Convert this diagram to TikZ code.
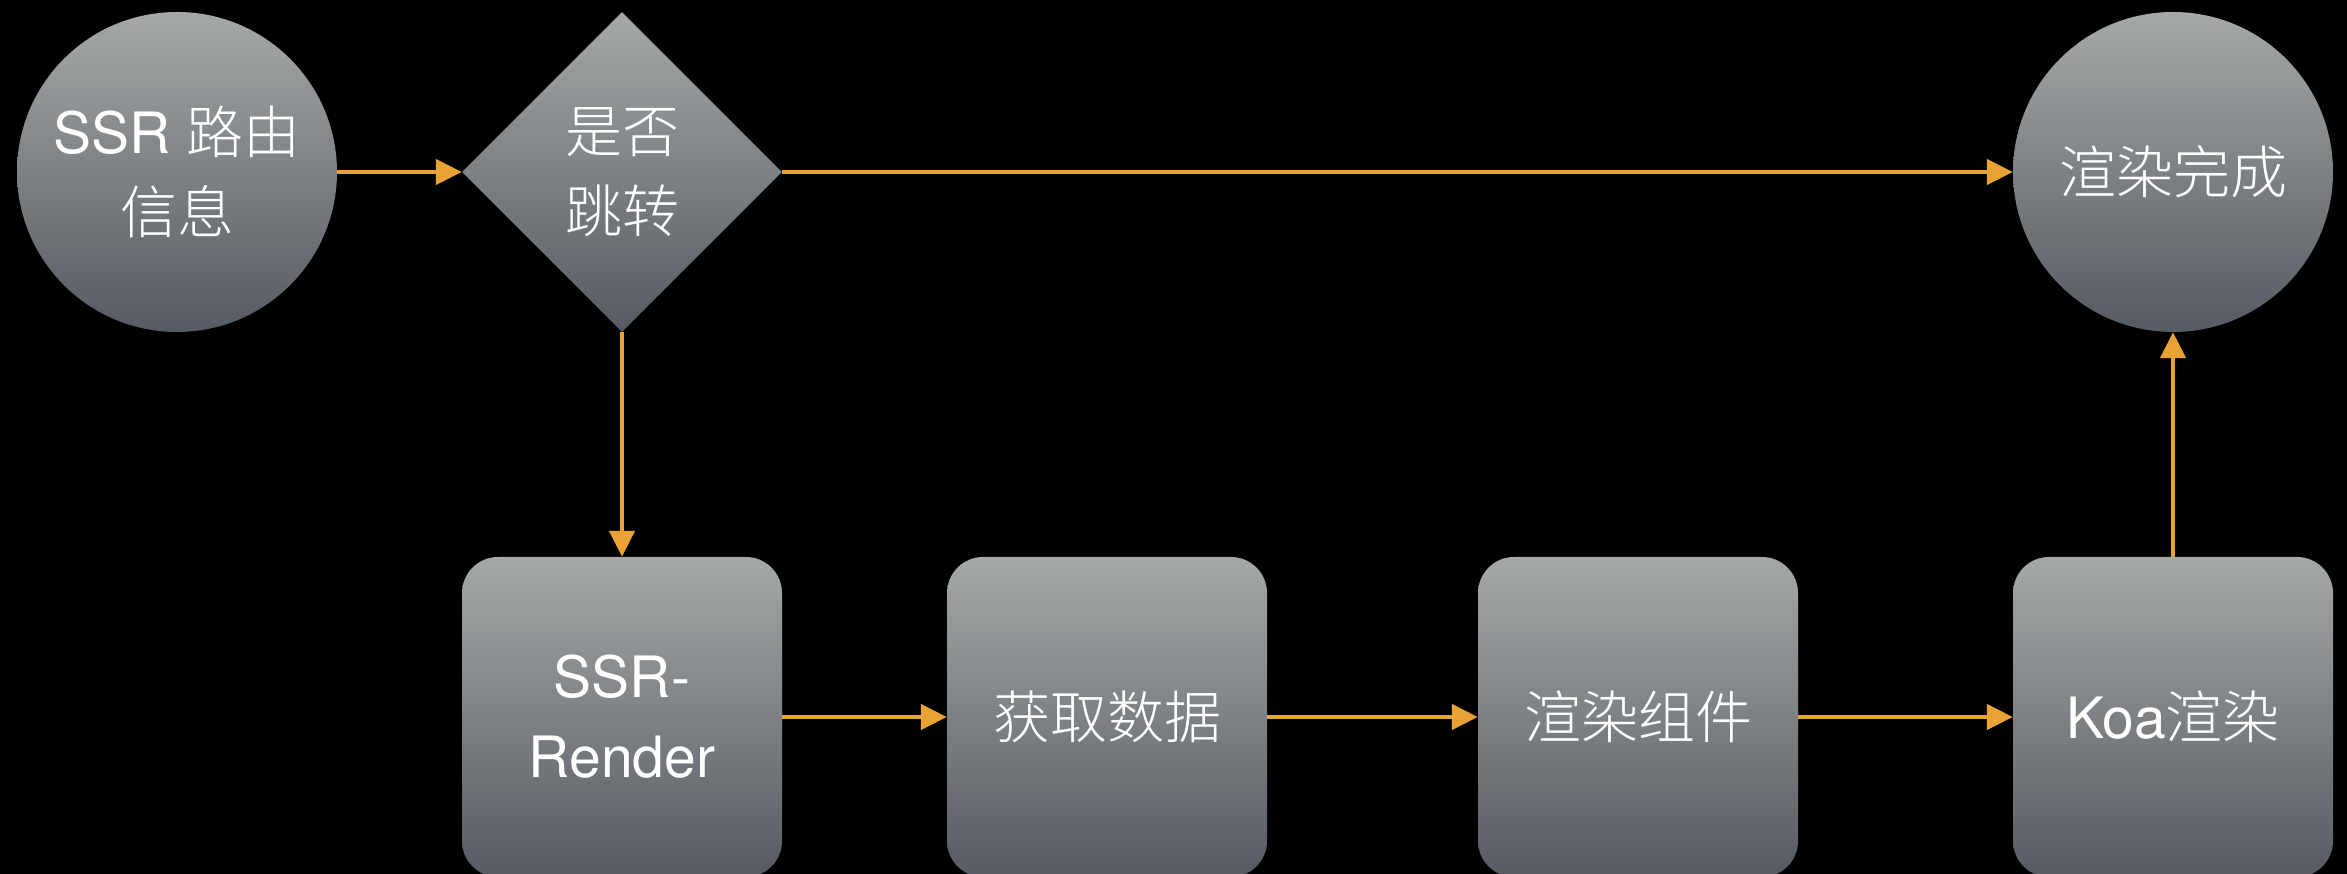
\documentclass[tikz,border=0pt]{standalone}
\usepackage{fontspec}
\setmainfont{TeX Gyre Heros}
\newfontfamily\cjk{Noto Sans CJK SC Light}
\usetikzlibrary{shapes.geometric,arrows.meta}

\definecolor{shadetop}{RGB}{164,168,167}
\definecolor{shadebottom}{RGB}{86,91,99}
\definecolor{arroworange}{RGB}{233,163,52}

\tikzset{
  grey/.style={top color=shadetop, bottom color=shadebottom, text=white, inner sep=0pt,
    align=center, font=\fontsize{57}{80}\selectfont},
  roundnode/.style={grey, circle, minimum size=320pt},
  decision/.style={grey, diamond, minimum width=320pt, minimum height=320pt},
  stepbox/.style={grey, rectangle, rounded corners=36pt, minimum width=320pt, minimum height=320pt},
  flow/.style={-{Triangle[length=26pt,width=25pt]}, line width=4.5pt, draw=arroworange}
}

\begin{document}
\begin{tikzpicture}[x=1pt,y=1pt]
\fill[black] (0,0) rectangle (2347,874);
\useasboundingbox (0,0) rectangle (2347,874);
% top row
\node[roundnode] (route) at (177,702) {SSR \cjk{路由}\\\cjk{信息}};
\node[decision] (jump) at (622,702) {\cjk{是否}\\\cjk{跳转}};
\node[roundnode] (done) at (2173,702) {\cjk{渲染完成}};
% bottom row
\node[stepbox] (render) at (622,157) {SSR-\\Render};
\node[stepbox] (fetch) at (1107,157) {\cjk{获取数据}};
\node[stepbox] (comp) at (1638,157) {\cjk{渲染组件}};
\node[stepbox] (koa) at (2173,157) {Koa\cjk{渲染}};
% connectors
\draw[flow] (route) -- (jump);
\draw[flow] (jump) -- (done);
\draw[flow] (jump) -- (render);
\draw[flow] (render) -- (fetch);
\draw[flow] (fetch) -- (comp);
\draw[flow] (comp) -- (koa);
\draw[flow] (koa) -- (done);
\end{tikzpicture}
\end{document}
